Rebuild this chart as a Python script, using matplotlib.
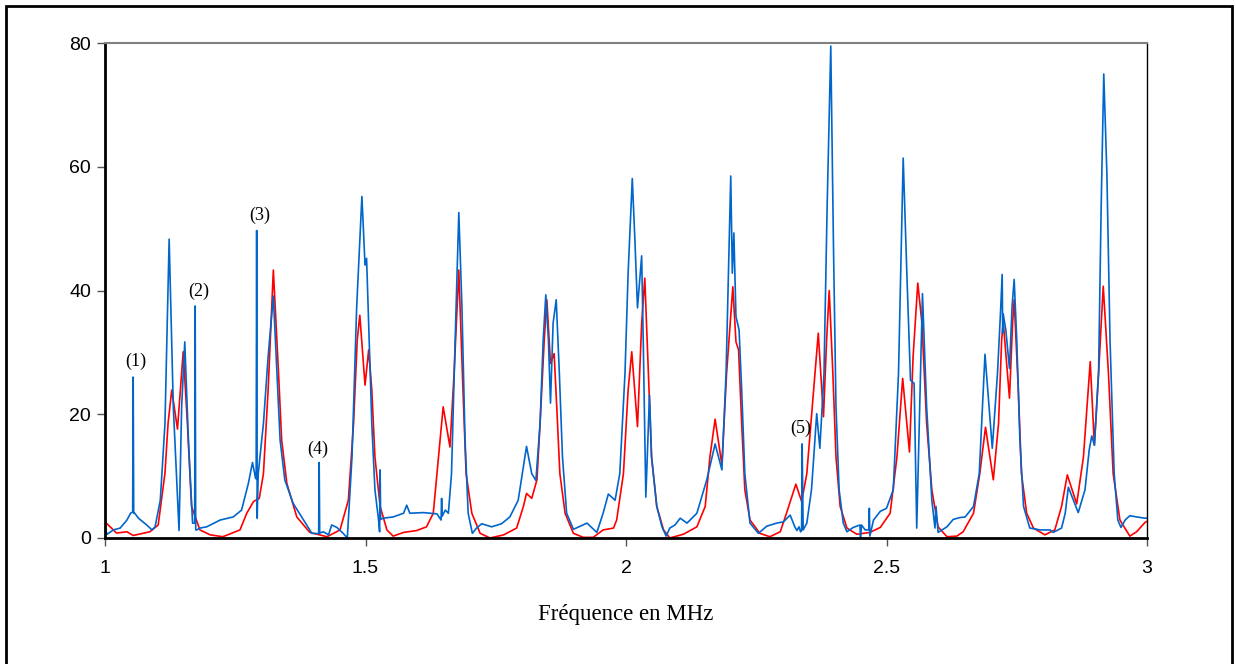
import numpy as np
import matplotlib.pyplot as plt
from matplotlib.patches import Rectangle

# frequency (MHz) / amplitude

# red curve
red_f = [1.000, 1.022, 1.042, 1.054, 1.086, 1.102, 1.115, 1.121, 1.128, 1.139,
         1.150, 1.158, 1.166, 1.182, 1.202, 1.226, 1.259, 1.272, 1.285, 1.296,
         1.304, 1.313, 1.323, 1.333, 1.339, 1.349, 1.368, 1.393, 1.426, 1.451,
         1.467, 1.477, 1.484, 1.489, 1.499, 1.506, 1.512, 1.518, 1.528, 1.541,
         1.553, 1.573, 1.598, 1.617, 1.630, 1.640, 1.649, 1.662, 1.670, 1.679,
         1.687, 1.693, 1.704, 1.720, 1.739, 1.765, 1.790, 1.803, 1.809, 1.819,
         1.829, 1.835, 1.843, 1.848, 1.855, 1.862, 1.867, 1.873, 1.883, 1.899,
         1.918, 1.937, 1.956, 1.976, 1.982, 1.995, 2.004, 2.011, 2.022, 2.030,
         2.036, 2.043, 2.049, 2.059, 2.072, 2.084, 2.110, 2.136, 2.152, 2.161,
         2.171, 2.184, 2.193, 2.205, 2.211, 2.216, 2.222, 2.228, 2.238, 2.257,
         2.276, 2.296, 2.308, 2.326, 2.337, 2.347, 2.360, 2.369, 2.379, 2.385,
         2.390, 2.397, 2.403, 2.411, 2.424, 2.443, 2.468, 2.488, 2.507, 2.520,
         2.531, 2.544, 2.551, 2.560, 2.568, 2.577, 2.587, 2.599, 2.616, 2.635,
         2.647, 2.667, 2.679, 2.690, 2.705, 2.715, 2.721, 2.724, 2.736, 2.742,
         2.745, 2.753, 2.759, 2.769, 2.782, 2.804, 2.823, 2.836, 2.847, 2.865,
         2.878, 2.891, 2.899, 2.907, 2.916, 2.926, 2.935, 2.948, 2.967, 2.980,
         2.996, 3.000]
red_a = [2.6, 0.8, 1.0, 0.4, 1.0, 2.1, 10.5, 18.6, 23.9, 17.6,
         30.1, 18.6, 5.1, 1.3, 0.5, 0.2, 1.3, 4.0, 5.9, 6.4,
         10.4, 23.9, 43.3, 26.6, 15.8, 8.8, 3.4, 0.9, 0.2, 1.3,
         6.1, 18.5, 32.0, 36.0, 24.7, 30.4, 23.9, 13.1, 5.1, 1.3,
         0.3, 0.9, 1.2, 1.8, 4.0, 13.1, 21.2, 14.7, 26.7, 43.3,
         23.9, 10.4, 4.0, 0.75, 0.0, 0.5, 1.6, 5.1, 7.2, 6.4,
         9.4, 18.5, 32.0, 38.5, 28.2, 29.8, 21.2, 10.4, 4.0, 0.75,
         0.1, 0.1, 1.3, 1.6, 2.9, 10.4, 23.9, 30.1, 18.0, 34.7,
         42.0, 26.6, 13.1, 5.1, 1.3, 0.0, 0.6, 1.8, 5.1, 13.1,
         19.2, 11.8, 26.6, 40.6, 31.7, 30.4, 18.5, 7.8, 2.9, 0.75,
         0.2, 1.0, 4.0, 8.7, 5.9, 10.4, 23.9, 33.1, 19.6, 32.0,
         40.0, 26.6, 13.1, 5.1, 1.6, 0.6, 0.9, 1.7, 4.0, 13.1,
         25.8, 13.9, 29.3, 41.2, 34.7, 18.5, 7.8, 1.8, 0.2, 0.3,
         1.0, 4.0, 10.4, 17.9, 9.4, 18.5, 32.0, 35.0, 22.6, 34.7,
         38.5, 23.9, 10.4, 4.0, 1.6, 0.5, 1.3, 5.1, 10.2, 5.5,
         13.1, 28.5, 15.0, 26.6, 40.7, 26.6, 10.4, 2.9, 0.3, 1.0,
         2.5, 2.7]

# blue curve
blue_f = [1.000, 1.004, 1.016, 1.029, 1.042, 1.049, 1.053, 1.054, 1.055, 1.057,
          1.064, 1.080, 1.090, 1.096, 1.106, 1.115, 1.123, 1.131, 1.142, 1.147,
          1.153, 1.160, 1.168, 1.172, 1.173, 1.174, 1.176, 1.182, 1.195, 1.221,
          1.246, 1.262, 1.275, 1.283, 1.289, 1.290, 1.291, 1.292, 1.294, 1.304,
          1.313, 1.323, 1.330, 1.336, 1.345, 1.361, 1.381, 1.397, 1.410, 1.411,
          1.412, 1.419, 1.429, 1.435, 1.445, 1.457, 1.465, 1.474, 1.483, 1.493,
          1.499, 1.502, 1.507, 1.512, 1.518, 1.525, 1.527, 1.528, 1.529, 1.534,
          1.553, 1.573, 1.579, 1.585, 1.611, 1.637, 1.645, 1.646, 1.647, 1.653,
          1.659, 1.665, 1.672, 1.679, 1.685, 1.691, 1.697, 1.705, 1.713, 1.723,
          1.742, 1.761, 1.777, 1.793, 1.803, 1.809, 1.819, 1.827, 1.835, 1.841,
          1.846, 1.851, 1.855, 1.860, 1.866, 1.872, 1.878, 1.886, 1.899, 1.925,
          1.944, 1.956, 1.966, 1.979, 1.988, 1.998, 2.004, 2.012, 2.017, 2.022,
          2.030, 2.033, 2.038, 2.045, 2.049, 2.059, 2.069, 2.077, 2.084, 2.094,
          2.104, 2.117, 2.136, 2.155, 2.171, 2.184, 2.192, 2.201, 2.204, 2.207,
          2.211, 2.217, 2.222, 2.228, 2.238, 2.254, 2.270, 2.289, 2.302, 2.315,
          2.324, 2.328, 2.332, 2.335, 2.337, 2.338, 2.340, 2.347, 2.356, 2.366,
          2.372, 2.380, 2.386, 2.393, 2.398, 2.403, 2.409, 2.417, 2.424, 2.436,
          2.449, 2.450, 2.452, 2.459, 2.466, 2.467, 2.468, 2.475, 2.488, 2.500,
          2.513, 2.523, 2.532, 2.539, 2.546, 2.553, 2.558, 2.569, 2.577, 2.587,
          2.593, 2.595, 2.599, 2.616, 2.628, 2.641, 2.651, 2.667, 2.678, 2.689,
          2.703, 2.713, 2.719, 2.722, 2.723, 2.724, 2.729, 2.736, 2.741, 2.745,
          2.750, 2.756, 2.763, 2.775, 2.795, 2.814, 2.820, 2.836, 2.843, 2.849,
          2.868, 2.881, 2.889, 2.894, 2.899, 2.907, 2.912, 2.917, 2.923, 2.929,
          2.937, 2.944, 2.950, 2.958, 2.967, 2.980, 2.996, 3.000]
blue_a = [1.5, 0.6, 1.3, 1.6, 2.9, 4.0, 4.2, 26.0, 4.0, 4.0,
          3.2, 2.1, 1.3, 1.8, 6.1, 18.5, 48.3, 21.2, 1.2, 21.2,
          31.7, 15.8, 2.4, 2.4, 37.5, 1.3, 1.3, 1.6, 1.8, 2.9,
          3.4, 4.5, 8.8, 12.2, 9.6, 9.6, 49.7, 3.2, 10.4, 18.5,
          29.3, 39.1, 26.6, 15.8, 9.4, 5.6, 2.9, 0.75, 0.7, 12.2,
          0.8, 1.0, 0.5, 2.1, 1.7, 0.75, 0.0, 13.1, 37.4, 55.2,
          44.1, 45.2, 32.0, 18.5, 7.8, 2.9, 1.0, 11.0, 3.0, 3.2,
          3.4, 4.0, 5.3, 4.0, 4.1, 3.9, 2.9, 6.4, 3.5, 4.5,
          4.0, 10.4, 32.0, 52.6, 37.4, 15.8, 4.0, 0.75, 1.6, 2.3,
          1.8, 2.3, 3.4, 6.1, 11.5, 14.8, 10.4, 9.3, 18.5, 32.0,
          39.3, 32.0, 21.8, 34.7, 38.5, 26.6, 13.1, 4.0, 1.4, 2.4,
          0.9, 4.0, 7.1, 6.1, 10.4, 26.6, 42.8, 58.1, 48.2, 37.2,
          45.6, 32.0, 6.6, 23.1, 13.1, 5.1, 1.8, 0.3, 1.6, 2.1,
          3.2, 2.4, 4.0, 9.4, 15.2, 11.0, 26.6, 58.5, 42.8, 49.3,
          35.8, 33.6, 23.9, 10.4, 2.4, 0.75, 1.9, 2.4, 2.6, 3.7,
          1.8, 1.2, 1.8, 1.0, 1.2, 15.2, 1.3, 2.4, 7.8, 20.1,
          14.5, 26.6, 53.5, 79.5, 48.2, 21.2, 7.8, 2.4, 1.0, 1.7,
          2.1, 0.0, 2.1, 1.3, 1.3, 4.8, 0.3, 2.9, 4.3, 4.8,
          7.8, 26.6, 61.4, 42.8, 25.5, 25.0, 1.6, 39.5, 21.2, 6.1,
          1.6, 5.1, 0.9, 1.8, 3.0, 3.3, 3.4, 5.1, 10.4, 29.7,
          14.5, 26.6, 36.8, 42.6, 33.1, 36.2, 33.6, 27.4, 37.4, 41.8,
          32.0, 15.8, 5.1, 1.6, 1.3, 1.3, 0.9, 1.6, 4.0, 8.2,
          4.1, 7.8, 14.2, 16.5, 15.0, 26.6, 53.5, 75.0, 58.9, 32.0,
          10.4, 2.9, 1.7, 2.9, 3.6, 3.4, 3.2, 3.2]

# numbered labels (1)..(5)
note_text = ['(1)', '(2)', '(3)', '(4)', '(5)']
note_f = [1.0595, 1.180, 1.296, 1.4075, 2.335]
note_a = [28.5, 39.8, 52.1, 14.3, 17.7]

fig = plt.figure(figsize=(12.36, 6.64), dpi=100)
ax = fig.add_axes([0.0850, 0.1898, 0.8430, 0.7454])

ax.plot(red_f, red_a, color='#ff0000', lw=1.2)
ax.plot(blue_f, blue_a, color='#0066cc', lw=1.2)

for t, f, a in zip(note_text, note_f, note_a):
    ax.text(f, a, t, ha='center', va='center', fontsize=13, family='Liberation Serif')

ax.set_xlim(1, 3)
ax.set_ylim(0, 80)
ax.set_xticks([1, 1.5, 2, 2.5, 3])
ax.set_xticklabels(['1', '1.5', '2', '2.5', '3'])
ax.set_yticks([0, 20, 40, 60, 80])
ax.tick_params(direction='out', length=6, width=1, color='#555555', labelsize=14)
ax.tick_params(axis='x', pad=10)
ax.tick_params(axis='y', pad=4)
for lab in ax.get_xticklabels() + ax.get_yticklabels():
    lab.set_family('Liberation Sans')

ax.spines['left'].set_linewidth(2)
ax.spines['bottom'].set_linewidth(2)
ax.spines['top'].set_color('#808080')
ax.spines['top'].set_linewidth(1.5)
ax.spines['right'].set_linewidth(1)

ax.set_xlabel('Fréquence en MHz', fontsize=16.5, family='Liberation Serif', labelpad=19)

# outer frame around the whole picture
fig.patches.append(Rectangle((6 / 1236, -0.05), 1226 / 1236, 1 - 6 / 664 + 0.05,
                             transform=fig.transFigure, fill=False, lw=2, ec='black'))

fig.savefig('out.png', dpi=100)
